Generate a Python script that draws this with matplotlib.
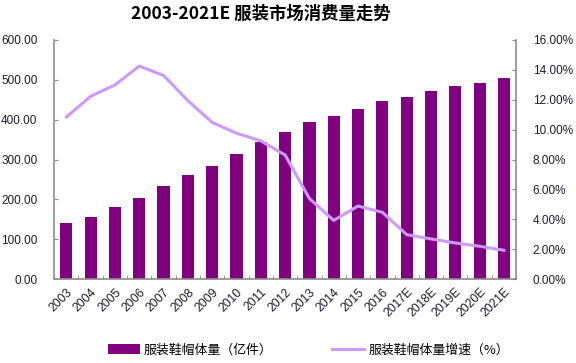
import numpy as np
import matplotlib.pyplot as plt
from matplotlib.ticker import FuncFormatter, MultipleLocator

plt.rcParams['font.family'] = ['Liberation Sans', 'Noto Sans CJK SC', 'DejaVu Sans']

years = ['2003', '2004', '2005', '2006', '2007', '2008', '2009', '2010', '2011', '2012',
         '2013', '2014', '2015', '2016', '2017E', '2018E', '2019E', '2020E', '2021E']
volume = [141, 157, 180, 203, 233, 260, 285, 313, 343, 370,
          393, 408, 427, 447, 456, 472, 484, 491, 504]
growth = [10.84, 12.23, 12.99, 14.25, 13.62, 11.94, 10.48, 9.76, 9.25, 8.3,
          5.39, 3.93, 4.89, 4.47, 2.98, 2.69, 2.42, 2.20, 1.93]

bar_color = '#800080'
line_color = '#cc99ff'
axis_gray = '#8c8c8c'
label_color = '#1c1c30'

fig = plt.figure(figsize=(5.76, 3.63), dpi=100)
ax = fig.add_axes([0.094, 0.231, 0.802, 0.659])
ax2 = ax.twinx()

x = np.arange(len(years))
b = ax.bar(x, volume, width=0.5, color=bar_color, zorder=2, label='服装鞋帽体量（亿件）')
l, = ax2.plot(x, growth, color=line_color, lw=2.2, zorder=3, label='服装鞋帽体量增速（%）')

ax.set_xlim(-0.5, len(years) - 0.5)
ax.set_ylim(0, 600)
ax2.set_ylim(0, 16)
ax.yaxis.set_major_locator(MultipleLocator(100))
ax2.yaxis.set_major_locator(MultipleLocator(2))
ax.yaxis.set_major_formatter(FuncFormatter(lambda v, p: f'{v:.2f}'))
ax2.yaxis.set_major_formatter(FuncFormatter(lambda v, p: f'{v:.2f}%'))

# ticks between categories like excel
ax.set_xticks(x)
ax.set_xticklabels(years, rotation=45, ha='right', rotation_mode='anchor',
                   fontsize=8.7, color=label_color)
ax.set_xticks(np.arange(-0.5, len(years), 1), minor=True)
ax.tick_params(axis='x', which='major', length=0, pad=5)
ax.tick_params(axis='x', which='minor', direction='in', length=3, color=axis_gray)
ax.tick_params(axis='y', direction='in', length=3, color=axis_gray,
               labelsize=8.5, labelcolor=label_color, pad=12)
ax2.tick_params(axis='y', direction='in', length=3, color=axis_gray,
                labelsize=8.5, labelcolor=label_color, pad=12)

for a in (ax, ax2):
    a.spines['top'].set_visible(False)
    for s in ('left', 'right', 'bottom'):
        a.spines[s].set_color(axis_gray)
        a.spines[s].set_linewidth(1.2)
ax.spines['right'].set_visible(False)
ax2.spines['left'].set_visible(False)
ax2.spines['bottom'].set_visible(False)

fig.text(0.453, 0.962, '2003-2021E 服装市场消费量走势', ha='center', va='center',
         fontsize=12.5, fontweight='bold', family=['Noto Sans CJK SC', 'DejaVu Sans'])

fig.legend([b, l], [b.get_label(), l.get_label()], loc='center', ncol=2,
           bbox_to_anchor=(0.535, 0.036), frameon=False, columnspacing=4.6,
           handlelength=2.5, handletextpad=0.3, handleheight=0.9,
           prop={'family': ['Noto Sans CJK SC', 'DejaVu Sans'], 'size': 9.3})

fig.savefig('out.png', dpi=100)
